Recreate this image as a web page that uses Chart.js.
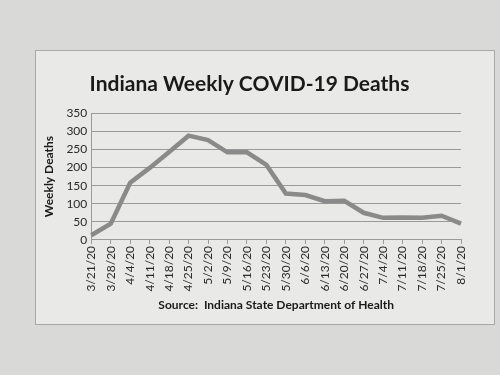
<!DOCTYPE html>
<html>
<head>
<meta charset="utf-8">
<script src="https://cdn.jsdelivr.net/npm/chart.js@4/dist/chart.umd.min.js"></script>
<style>
  body { margin: 0; width: 500px; height: 375px; background: #d9d9d7; overflow: hidden; }
  .marco { position: absolute; left: 35px; top: 50px; width: 458px; height: 273px; border: 1px solid #a8a8a6; background: #e9e9e7; }
</style>
</head>
<body>
<div class="marco"><canvas id="grafica" width="458" height="273"></canvas></div>
<script>
const semanas = ["3/21/20", "3/28/20", "4/4/20", "4/11/20", "4/18/20", "4/25/20", "5/2/20", "5/9/20", "5/16/20", "5/23/20",
  "5/30/20", "6/6/20", "6/13/20", "6/20/20", "6/27/20", "7/4/20", "7/11/20", "7/18/20", "7/25/20", "8/1/20"];
const muertes = [13, 45, 158, 199, 243, 288, 276, 242, 242, 207, 128, 124, 107, 108, 75, 61, 62, 61, 67, 45];

const grafica = document.getElementById("grafica");

new Chart(grafica, {
    type: "line",
    data: {
        labels: semanas,
        datasets: [{
            label: "Weekly Deaths",
            data: muertes,
            borderColor: "#8a8a8a",
            borderWidth: 4.5,
            pointRadius: 0,
            tension: 0
        }]
    },
    options: {
        responsive: false,
        animation: false,
        layout: { padding: { top: 6, right: 33, bottom: 8, left: 2 } },
        plugins: {
            legend: { display: false },
            tooltip: { enabled: false },
            title: {
                display: true,
                text: "Indiana Weekly COVID-19 Deaths",
                color: "#1a1a1a",
                font: { family: "Lato", size: 21, weight: "bold" },
                padding: { top: 15, bottom: 16 }
            }
        },
        scales: {
            x: {
                offset: false,
                grid: { drawOnChartArea: false, drawTicks: true, tickLength: 4, color: "#9a9a9a" },
                border: { color: "#9a9a9a" },
                ticks: { minRotation: 90, maxRotation: 90, color: "#2a2a2a", font: { family: "Lato", size: 12 }, padding: 2 },
                title: {
                    display: true,
                    text: "Source:  Indiana State Department of Health",
                    color: "#1a1a1a",
                    font: { family: "Lato", size: 12, weight: "bold" },
                    padding: { top: 4 }
                }
            },
            y: {
                min: 0,
                max: 350,
                ticks: { stepSize: 50, color: "#2a2a2a", font: { family: "Lato", size: 12 }, padding: 4 },
                grid: { color: "#9a9a9a", drawTicks: false },
                border: { color: "#9a9a9a" },
                title: {
                    display: true,
                    text: "Weekly Deaths",
                    color: "#1a1a1a",
                    font: { family: "Lato", size: 12, weight: "bold" },
                    padding: { top: 4, bottom: 6 }
                }
            }
        }
    }
});
</script>
</body>
</html>
